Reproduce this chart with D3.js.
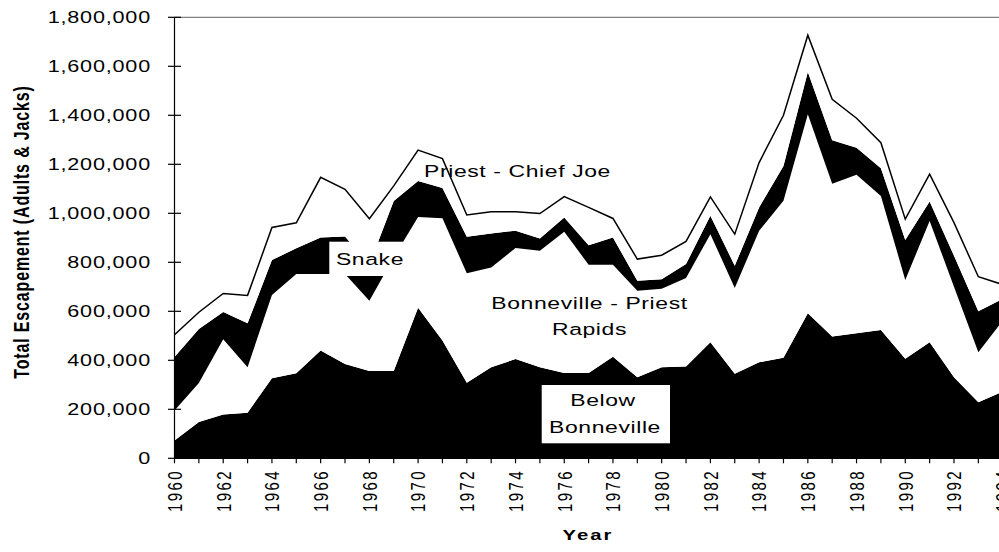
<!DOCTYPE html>
<html>
<head>
<meta charset="utf-8">
<script src="https://cdn.jsdelivr.net/npm/d3@7"></script>
<style>
  body { margin: 0; background: #fff; }
  text { font-family: Arial, "Liberation Sans", sans-serif; fill: #000; }
</style>
</head>
<body>
<div id="chart"></div>
<script>
// Escapement by reach
var years = [1960,1961,1962,1963,1964,1965,1966,1967,1968,1969,1970,1971,1972,1973,1974,1975,1976,1977,
             1978,1979,1980,1981,1982,1983,1984,1985,1986,1987,1988,1989,1990,1991,1992,1993,1994];
var belowBonneville = [73,148,179,186,327,347,440,385,356,356,614,481,308,372,405,372,348,348,
                       415,331,372,375,474,345,392,410,592,497,510,524,406,474,331,229,272];
var bonnevillePriest = [122,159,307,186,340,405,312,367,287,464,371,499,447,407,453,475,577,442,
                        375,353,320,361,441,350,537,641,812,624,647,547,322,495,369,204,290];
var snake = [218,221,111,179,142,105,149,153,147,230,147,123,149,139,71,50,58,80,
             111,41,39,57,75,91,95,142,173,177,111,113,163,79,127,167,89];
var priestChiefJoe = [91,68,76,114,133,104,246,193,188,62,126,120,89,88,77,102,85,154,
                      78,88,98,92,77,129,183,207,150,167,120,104,85,112,135,141,58];
var yTicks = [0,200000,400000,600000,800000,1000000,1200000,1400000,1600000,1800000];
var xLabelYears = d3.range(1960, 1995, 2);

var keys = ["below", "bonnPriest", "snake", "priestChief"];
var fills = { below: "#000", bonnPriest: "#fff", snake: "#000", priestChief: "#fff" };

var data = years.map(function(yr, i) {
    return {
        year: yr,
        below: belowBonneville[i] * 1000,
        bonnPriest: bonnevillePriest[i] * 1000,
        snake: snake[i] * 1000,
        priestChief: priestChiefJoe[i] * 1000
    };
});

var width = 999, height = 552;
var stretch = 1.35; // text in the original is drawn wide

var svg = d3.select("#chart").append("svg")
    .attr("width", width)
    .attr("height", height);

var x = d3.scaleLinear().domain([1960, 1994]).range([174.5, 1002.7]);
var y = d3.scaleLinear().domain([0, 1800000]).range([458.3, 17.3]);

// stacked areas
var series = d3.stack().keys(keys)(data);
var area = d3.area()
    .x(function(d) { return x(d.data.year); })
    .y0(function(d) { return y(d[0]); })
    .y1(function(d) { return y(d[1]); });

svg.selectAll(".layer")
    .data(series)
    .enter().append("path")
    .attr("class", "layer")
    .attr("d", area)
    .attr("fill", function(d) { return fills[d.key]; })
    .attr("stroke", "none");

// outline on top of the total
var topLine = d3.line()
    .x(function(d) { return x(d.data.year); })
    .y(function(d) { return y(d[1]); });
svg.append("path")
    .attr("d", topLine(series[3]))
    .attr("fill", "none")
    .attr("stroke", "#000")
    .attr("stroke-width", 1.5);

// top border of plot area
svg.append("line")
    .attr("x1", x(1960)).attr("x2", width)
    .attr("y1", y(1800000)).attr("y2", y(1800000))
    .attr("stroke", "#808080").attr("stroke-width", 1.2);

// y axis
svg.append("line")
    .attr("x1", x(1960)).attr("x2", x(1960))
    .attr("y1", y(1800000)).attr("y2", y(0))
    .attr("stroke", "#000").attr("stroke-width", 1.2);

svg.selectAll(".ytick")
    .data(yTicks)
    .enter().append("line")
    .attr("x1", x(1960) - 6.5).attr("x2", x(1960) + 6.5)
    .attr("y1", function(d) { return y(d); })
    .attr("y2", function(d) { return y(d); })
    .attr("stroke", "#000").attr("stroke-width", 1.2);

svg.selectAll(".ylabel")
    .data(yTicks)
    .enter().append("text")
    .attr("transform", function(d) { return "translate(151," + y(d) + ") scale(" + stretch + ",1)"; })
    .attr("dy", "0.36em")
    .attr("text-anchor", "end")
    .style("font-size", "16px")
    .style("letter-spacing", "0.6px")
    .text(function(d) { return d3.format(",")(d); });

// x axis
svg.append("line")
    .attr("x1", x(1960)).attr("x2", width)
    .attr("y1", y(0)).attr("y2", y(0))
    .attr("stroke", "#000").attr("stroke-width", 1.2);

svg.selectAll(".xtick")
    .data(years)
    .enter().append("line")
    .attr("x1", function(d) { return x(d); })
    .attr("x2", function(d) { return x(d); })
    .attr("y1", y(0)).attr("y2", y(0) + 5)
    .attr("stroke", "#000").attr("stroke-width", 1.2);

svg.selectAll(".xlabel")
    .data(xLabelYears)
    .enter().append("text")
    .attr("transform", function(d) { return "translate(" + x(d) + ",469) scale(" + stretch + ",1) rotate(-90)"; })
    .attr("dy", "0.36em")
    .attr("text-anchor", "end")
    .style("font-size", "15px")
    .style("letter-spacing", "2.4px")
    .text(function(d) { return d; });

// axis titles
svg.append("text")
    .attr("transform", "translate(28.5,232) scale(" + stretch + ",1) rotate(-90)")
    .attr("text-anchor", "middle")
    .style("font-size", "16px")
    .style("font-weight", "bold")
    .style("letter-spacing", "0.85px")
    .text("Total Escapement (Adults & Jacks)");

svg.append("text")
    .attr("transform", "translate(588,540) scale(" + stretch + ",1)")
    .attr("text-anchor", "middle")
    .style("font-size", "15px")
    .style("font-weight", "bold")
    .style("letter-spacing", "1.5px")
    .text("Year");

// in-chart labels
function label(txt, cx, baseline) {
    svg.append("text")
        .attr("transform", "translate(" + cx + "," + baseline + ") scale(" + stretch + ",1)")
        .attr("text-anchor", "middle")
        .style("font-size", "17px")
        .style("letter-spacing", "0.45px")
        .text(txt);
}

svg.append("rect")
    .attr("x", 329.3).attr("y", 241.7)
    .attr("width", 74).attr("height", 34.3)
    .attr("fill", "#fff");
svg.append("rect")
    .attr("x", 541.7).attr("y", 385)
    .attr("width", 128.3).attr("height", 58.3)
    .attr("fill", "#fff");

label("Priest - Chief Joe", 517.5, 177);
label("Snake", 370, 265);
label("Bonneville - Priest", 589.5, 309);
label("Rapids", 589.5, 334.5);
label("Below", 603, 406);
label("Bonneville", 605, 432.7);
</script>
</body>
</html>
